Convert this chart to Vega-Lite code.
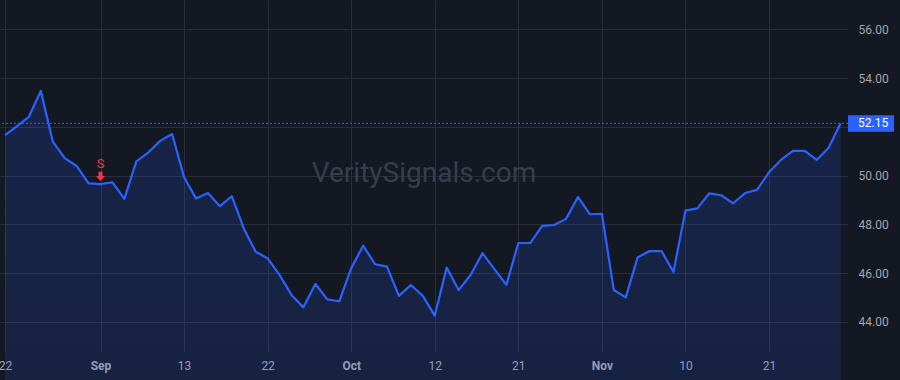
{
  "$schema": "https://vega.github.io/schema/vega-lite/v6.json",
  "width": 848,
  "height": 351,
  "autosize": {"type": "none"},
  "padding": {"left": 0, "top": 0, "right": 52, "bottom": 29},
  "background": "#141823",
  "config": {
    "view": {"stroke": null},
    "font": "Roboto",
    "axis": {"domain": false, "ticks": false, "grid": true, "gridColor": "#2a2e3a", "gridWidth": 1, "labelColor": "#a3a6af", "labelFontSize": 12, "labelFont": "Roboto", "title": null}
  },
  "datasets": {
    "prices": [
      {"i": 0, "v": 51.67}, {"i": 1, "v": 52.04}, {"i": 2, "v": 52.42}, {"i": 3, "v": 53.48},
      {"i": 4, "v": 51.40}, {"i": 5, "v": 50.72}, {"i": 6, "v": 50.40}, {"i": 7, "v": 49.69},
      {"i": 8, "v": 49.66}, {"i": 9, "v": 49.73}, {"i": 10, "v": 49.05}, {"i": 11, "v": 50.59},
      {"i": 12, "v": 50.95}, {"i": 13, "v": 51.43}, {"i": 14, "v": 51.71}, {"i": 15, "v": 49.94},
      {"i": 16, "v": 49.07}, {"i": 17, "v": 49.29}, {"i": 18, "v": 48.75}, {"i": 19, "v": 49.16},
      {"i": 20, "v": 47.84}, {"i": 21, "v": 46.88}, {"i": 22, "v": 46.61}, {"i": 23, "v": 45.93},
      {"i": 24, "v": 45.11}, {"i": 25, "v": 44.60}, {"i": 26, "v": 45.56}, {"i": 27, "v": 44.93},
      {"i": 28, "v": 44.85}, {"i": 29, "v": 46.20}, {"i": 30, "v": 47.13}, {"i": 31, "v": 46.37},
      {"i": 32, "v": 46.27}, {"i": 33, "v": 45.07}, {"i": 34, "v": 45.52}, {"i": 35, "v": 45.07},
      {"i": 36, "v": 44.26}, {"i": 37, "v": 46.23}, {"i": 38, "v": 45.31}, {"i": 39, "v": 45.93},
      {"i": 40, "v": 46.82}, {"i": 41, "v": 46.17}, {"i": 42, "v": 45.52}, {"i": 43, "v": 47.24},
      {"i": 44, "v": 47.24}, {"i": 45, "v": 47.94}, {"i": 46, "v": 47.98}, {"i": 47, "v": 48.23},
      {"i": 48, "v": 49.13}, {"i": 49, "v": 48.42}, {"i": 50, "v": 48.44}, {"i": 51, "v": 45.31},
      {"i": 52, "v": 45.01}, {"i": 53, "v": 46.65}, {"i": 54, "v": 46.91}, {"i": 55, "v": 46.91},
      {"i": 56, "v": 46.05}, {"i": 57, "v": 48.57}, {"i": 58, "v": 48.66}, {"i": 59, "v": 49.28},
      {"i": 60, "v": 49.20}, {"i": 61, "v": 48.87}, {"i": 62, "v": 49.29}, {"i": 63, "v": 49.42},
      {"i": 64, "v": 50.14}, {"i": 65, "v": 50.65}, {"i": 66, "v": 51.02}, {"i": 67, "v": 51.02},
      {"i": 68, "v": 50.65}, {"i": 69, "v": 51.15}, {"i": 70, "v": 52.15}
    ],
    "signals": [{"i": 8, "v": 49.66, "label": "S"}],
    "last": [{"price": 52.15, "label": "52.15"}],
    "mark": [{"label": "VeritySignals.com"}]
  },
  "layer": [
    {
      "data": {"name": "mark"},
      "mark": {"type": "text", "fontSize": 28, "font": "Roboto", "color": "#393d49", "align": "center", "baseline": "alphabetic"},
      "encoding": {
        "x": {"datum": 35.1, "type": "quantitative", "scale": {"domain": [-0.42, 70.62], "nice": false, "zero": false},
          "axis": {"grid": true, "values": [0, 8, 15, 22, 29, 36, 43, 50, 57, 64], "labelFlush": false, "labelPadding": 9,
            "labelExpr": "datum.value == 0 ? '22' : datum.value == 8 ? 'Sep' : datum.value == 15 ? '13' : datum.value == 22 ? '22' : datum.value == 29 ? 'Oct' : datum.value == 36 ? '12' : datum.value == 43 ? '21' : datum.value == 50 ? 'Nov' : datum.value == 57 ? '10' : '21'",
            "labelFontWeight": {"condition": {"test": "datum.value == 8 || datum.value == 29 || datum.value == 50", "value": "bold"}, "value": "normal"}}},
        "y": {"datum": 49.76, "type": "quantitative", "scale": {"domain": [42.81, 57.21], "nice": false, "zero": false},
          "axis": {"grid": true, "orient": "right", "values": [44, 46, 48, 50, 52, 54, 56], "labelExpr": "datum.value == 52 ? '' : format(datum.value, '.2f')", "labelPadding": 10, "labelAlign": "left", "labelBaseline": "middle"}},
        "text": {"field": "label"}
      }
    },
    {
      "data": {"name": "prices"},
      "mark": {"type": "area", "line": false, "color": {"gradient": "linear", "x1": 0, "y1": 0, "x2": 0, "y2": 1, "stops": [{"offset": 0, "color": "rgba(41,98,255,0.17)"}, {"offset": 1, "color": "rgba(41,98,255,0.03)"}]}},
      "encoding": {"x": {"field": "i", "type": "quantitative"}, "y": {"field": "v", "type": "quantitative"}}
    },
    {
      "data": {"name": "last"},
      "mark": {"type": "rule", "color": "#2962FF", "strokeWidth": 1, "strokeDash": [2, 2]},
      "encoding": {"y": {"field": "price", "type": "quantitative"}}
    },
    {
      "data": {"name": "prices"},
      "mark": {"type": "line", "color": "#2962FF", "strokeWidth": 2.2, "strokeJoin": "round"},
      "encoding": {"x": {"field": "i", "type": "quantitative"}, "y": {"field": "v", "type": "quantitative"}}
    },
    {
      "data": {"name": "last"},
      "mark": {"type": "rect", "color": "#2962FF", "clip": false},
      "encoding": {
        "x": {"datum": 70.62, "type": "quantitative"}, "x2": {"datum": 74.47},
        "y": {"datum": 52.48, "type": "quantitative"}, "y2": {"datum": 51.81}
      }
    },
    {
      "data": {"name": "last"},
      "mark": {"type": "text", "color": "#ffffff", "fontSize": 12, "font": "Roboto", "align": "left", "baseline": "middle"},
      "encoding": {"x": {"datum": 71.46, "type": "quantitative"}, "y": {"field": "price", "type": "quantitative"}, "text": {"field": "label"}}
    },
    {
      "data": {"name": "signals"},
      "mark": {"type": "text", "color": "#f23645", "fontSize": 13, "font": "Roboto", "align": "center", "baseline": "middle", "dy": -20},
      "encoding": {"x": {"field": "i", "type": "quantitative"}, "y": {"field": "v", "type": "quantitative"}, "text": {"field": "label"}}
    },
    {
      "data": {"name": "signals"},
      "mark": {"type": "point", "filled": true, "color": "#f23645", "opacity": 1, "size": 100, "shape": "M-0.4,-2.46L0.4,-2.46L0.4,-1.6L0.9,-1.6L0,-0.6L-0.9,-1.6L-0.4,-1.6Z"},
      "encoding": {"x": {"field": "i", "type": "quantitative"}, "y": {"field": "v", "type": "quantitative"}}
    }
  ]
}
